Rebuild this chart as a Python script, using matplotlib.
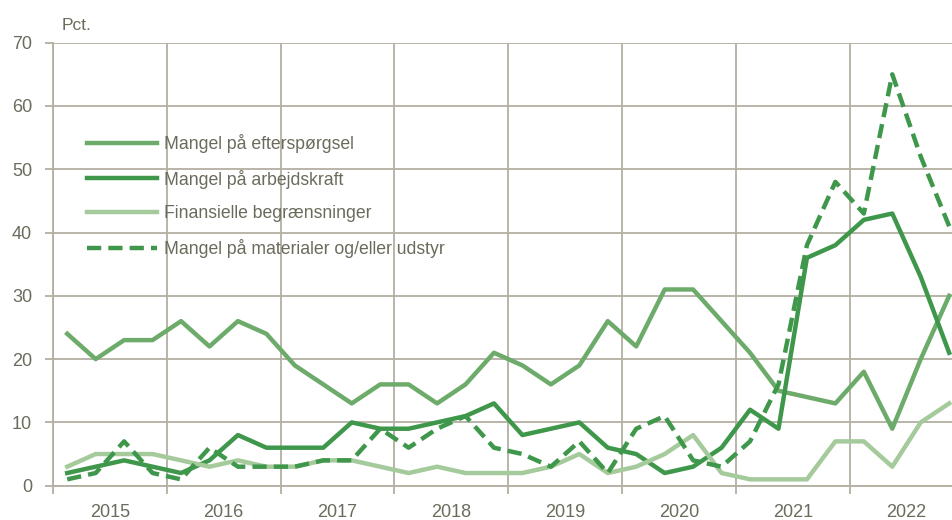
import matplotlib.pyplot as plt
import numpy as np

plt.rcParams['font.family'] = ['Liberation Sans Narrow', 'Liberation Sans', 'DejaVu Sans']

years = ['2015', '2016', '2017', '2018', '2019', '2020', '2021', '2022']

# kvartalsvise tal, 2015K1 - 2022K4
efterspoergsel = [24, 20, 23, 23, 26, 22, 26, 24, 19, 16, 13, 16, 16, 13, 16, 21,
                  19, 16, 19, 26, 22, 31, 31, 26, 21, 15, 14, 13, 18, 9, 20, 30]
arbejdskraft = [2, 3, 4, 3, 2, 4, 8, 6, 6, 6, 10, 9, 9, 10, 11, 13,
                8, 9, 10, 6, 5, 2, 3, 6, 12, 9, 36, 38, 42, 43, 33, 21]
finansielle = [3, 5, 5, 5, 4, 3, 4, 3, 3, 4, 4, 3, 2, 3, 2, 2,
               2, 3, 5, 2, 3, 5, 8, 2, 1, 1, 1, 7, 7, 3, 10, 13]
materialer = [1, 2, 7, 2, 1, 6, 3, 3, 3, 4, 4, 9, 6, 9, 11, 6,
              5, 3, 7, 2, 9, 11, 4, 3, 7, 16, 38, 48, 43, 65, 52, 41]

c_mid = '#6dab6b'
c_dark = '#3f974b'
c_light = '#a5ca9b'
c_grid = '#b3afa1'
c_text = '#6b6b5c'

x = np.arange(len(efterspoergsel)) + 0.5

fig = plt.figure(figsize=(9.53, 5.20), dpi=100)
ax = fig.add_axes([53 / 953, 0.066, 1 - 53 / 953, 0.852])

lw = 3.2
ax.plot(x, efterspoergsel, color=c_mid, lw=lw, label='Mangel på efterspørgsel')
ax.plot(x, arbejdskraft, color=c_dark, lw=lw, label='Mangel på arbejdskraft')
ax.plot(x, finansielle, color=c_light, lw=lw, label='Finansielle begrænsninger')
ax.plot(x, materialer, color=c_dark, lw=lw, dashes=(3.2, 1.6),
        label='Mangel på materialer og/eller udstyr')

ax.set_xlim(0, 900 / 28.45)
ax.set_ylim(0, 70)
ax.set_yticks(range(0, 71, 10))

ax.set_xticks(np.arange(len(years)) * 4 + 2)
ax.set_xticklabels(years)
ax.set_xticks(np.arange(len(years)) * 4, minor=True)

ax.grid(True, which='minor', axis='x', color=c_grid, lw=1.3)
ax.grid(True, which='major', axis='y', color=c_grid, lw=1.3)
ax.set_axisbelow(True)

for s in ['top', 'right']:
    ax.spines[s].set_visible(False)
for s in ['left', 'bottom']:
    ax.spines[s].set_color(c_grid)
    ax.spines[s].set_linewidth(1.3)

ax.tick_params(axis='x', which='major', length=0, pad=13, labelsize=13, labelcolor=c_text)
ax.tick_params(axis='x', which='minor', length=6, width=1.3, color=c_grid)
ax.tick_params(axis='y', length=6, width=1.3, color=c_grid, pad=9,
               labelsize=13, labelcolor=c_text)

fig.text(62 / 953, 1 - 25 / 520, 'Pct.', fontsize=12.5, color=c_text, va='center')

leg = ax.legend(loc='upper left', bbox_to_anchor=(0.02, 0.83), frameon=False,
                fontsize=12.7, handlelength=4.0, handletextpad=0.4, labelspacing=0.95)
for t in leg.get_texts():
    t.set_color(c_text)

fig.savefig('out.png', dpi=100)
